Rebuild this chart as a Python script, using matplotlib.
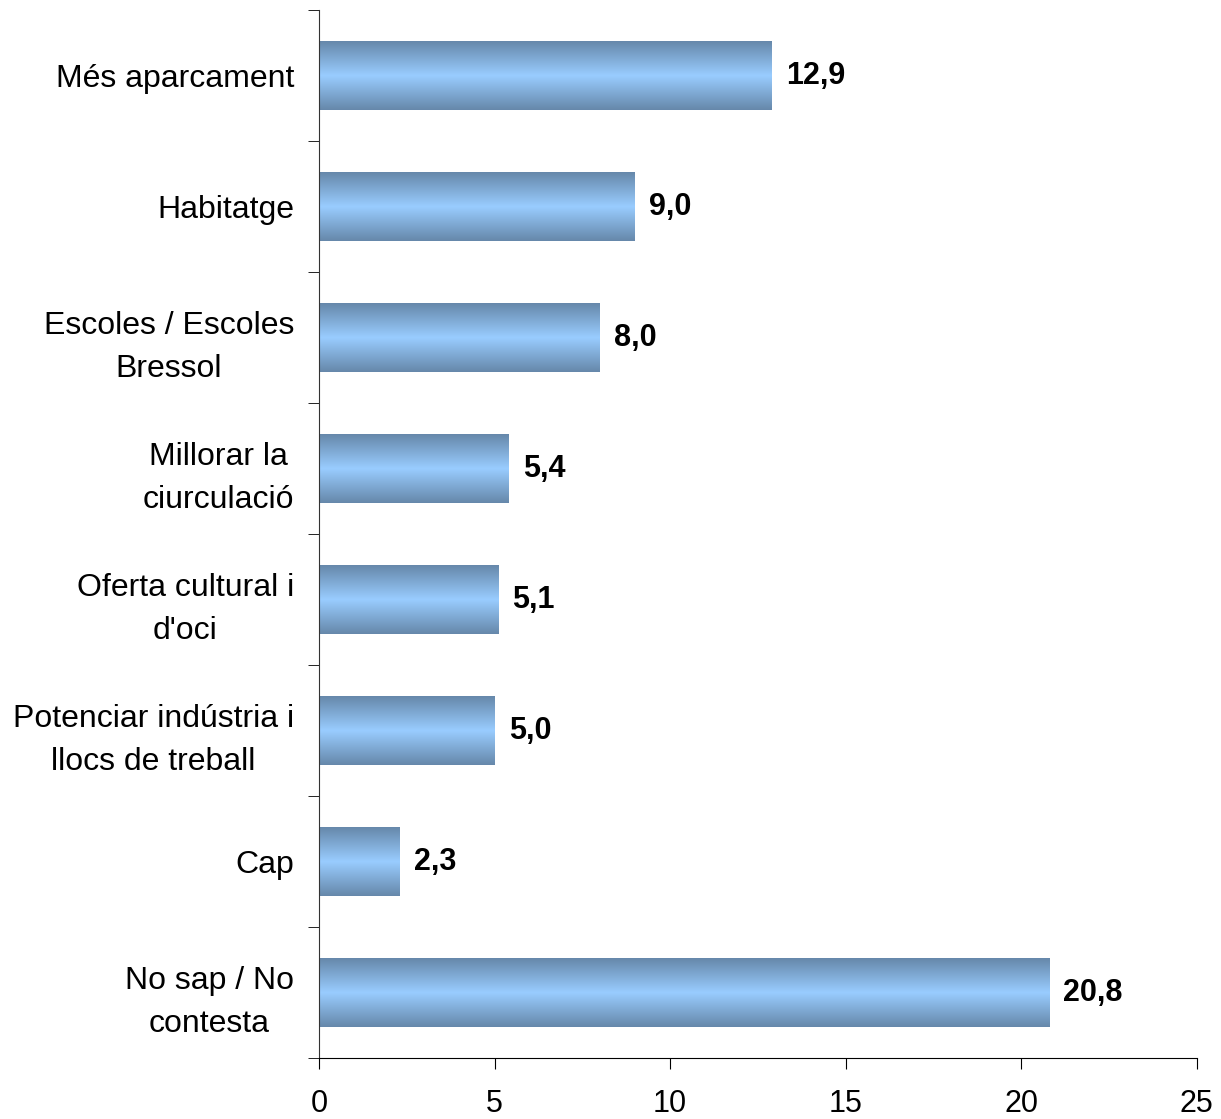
import numpy as np
import matplotlib.pyplot as plt
from matplotlib.colors import LinearSegmentedColormap

categories = ["Més aparcament", "Habitatge", "Escoles / Escoles\nBressol",
              "Millorar la\nciurculació", "Oferta cultural i\nd'oci",
              "Potenciar indústria i\nllocs de treball", "Cap",
              "No sap / No\ncontesta"]
values = [12.9, 9.0, 8.0, 5.4, 5.1, 5.0, 2.3, 20.8]
value_labels = ["12,9", "9,0", "8,0", "5,4", "5,1", "5,0", "2,3", "20,8"]

plt.rcParams['font.family'] = ['Liberation Sans', 'DejaVu Sans']

fig = plt.figure(figsize=(12.21, 11.19), dpi=100)
ax = fig.add_axes([0.2613, 0.0545, 0.7187, 0.9365])

n = len(categories)
y = np.arange(n)
bars = ax.barh(y, values, height=0.52, color="none", edgecolor="none")

# banded gradient: dark edges, light middle
cmap = LinearSegmentedColormap.from_list("bar", ["#6688aa", "#99ccff", "#6688aa"])
grad = np.linspace(0, 1, 256).reshape(-1, 1)
for b in bars:
    x0, y0 = b.get_x(), b.get_y()
    ax.imshow(grad, cmap=cmap, aspect="auto", interpolation="bilinear",
              extent=[x0, x0 + b.get_width(), y0, y0 + b.get_height()], zorder=2)

for yi, v, lab in zip(y, values, value_labels):
    ax.text(v + 0.4, yi, lab, va="center", ha="left", fontsize=22, fontweight="bold")

ax.set_xlim(0, 25)
ax.set_ylim(n - 0.5, -0.5)
ax.set_xticks([0, 5, 10, 15, 20, 25])
ax.tick_params(axis="x", labelsize=22, length=8, direction="out", pad=14)

ax.set_yticks(y)
ax.set_yticklabels(categories, fontsize=23)
for t in ax.get_yticklabels():
    t.set_multialignment("center")
    t.set_linespacing(1.55)
ax.tick_params(axis="y", which="major", length=0, pad=18)
ax.set_yticks(np.arange(-0.5, n, 1.0), minor=True)
ax.tick_params(axis="y", which="minor", length=8, direction="out")

ax.spines["top"].set_visible(False)
ax.spines["right"].set_visible(False)
ax.spines["left"].set_color("#333333")

fig.savefig("out.png", dpi=100)
